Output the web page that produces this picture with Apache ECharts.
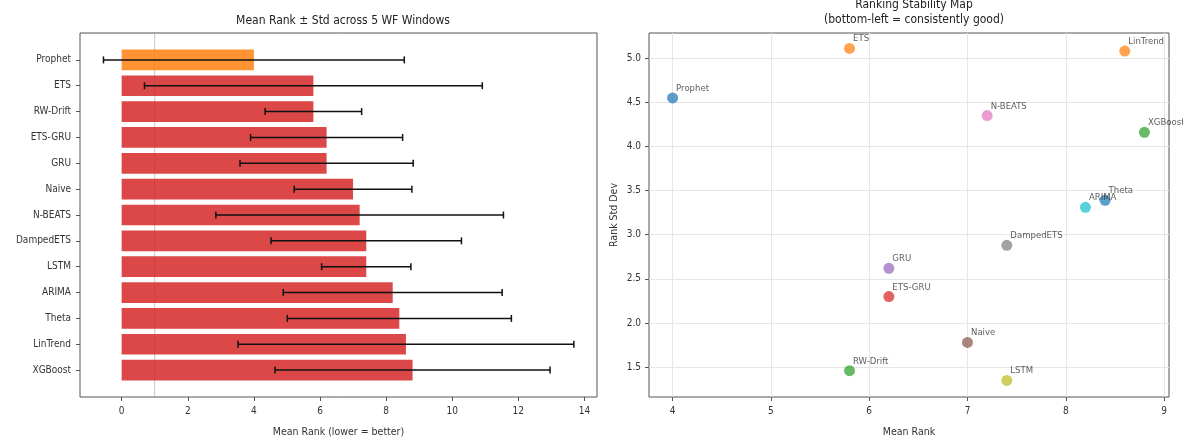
<!DOCTYPE html>
<html>
<head>
<meta charset="utf-8">
<script src="https://cdn.jsdelivr.net/npm/echarts@6/dist/echarts.min.js"></script>
<style>
html,body{margin:0;padding:0;background:#fff;}
#chart{width:1183px;height:438px;}
</style>
</head>
<body>
<div id="chart"></div>
<script>
// ---- data ----
const models = ['Prophet','ETS','RW-Drift','ETS-GRU','GRU','Naive','N-BEATS','DampedETS','LSTM','ARIMA','Theta','LinTrend','XGBoost'];
const meanRank = [4.0, 5.8, 5.8, 6.2, 6.2, 7.0, 7.2, 7.4, 7.4, 8.2, 8.4, 8.6, 8.8];
const stdRank  = [4.55, 5.11, 1.46, 2.30, 2.62, 1.78, 4.35, 2.88, 1.35, 3.31, 3.39, 5.08, 4.16];
const barColors = ['#ff7f0e','#d62728','#d62728','#d62728','#d62728','#d62728','#d62728','#d62728','#d62728','#d62728','#d62728','#d62728','#d62728'];
const pointColors = ['#1f77b4','#ff7f0e','#2ca02c','#d62728','#9467bd','#8c564b','#e377c2','#7f7f7f','#bcbd22','#17becf','#1f77b4','#ff7f0e','#2ca02c'];
const leftXTicks = [0, 2, 4, 6, 8, 10, 12, 14];
const rightXTicks = [4, 5, 6, 7, 8, 9];
const rightYTicks = [1.5, 2.0, 2.5, 3.0, 3.5, 4.0, 4.5, 5.0];
const refLineX = 1;

const FONT = "'DejaVu Sans Condensed', 'Liberation Sans Narrow', 'DejaVu Sans', sans-serif";
const TXT = '#333';
const FRAME = '#555';

const chart = echarts.init(document.getElementById('chart'), null, {renderer: 'canvas'});

const indexData = models.map((m, i) => [meanRank[i], i, stdRank[i]]);

function hexA(hex, a) {
  const r = parseInt(hex.slice(1,3),16), g = parseInt(hex.slice(3,5),16), b = parseInt(hex.slice(5,7),16);
  return `rgba(${r},${g},${b},${a})`;
}

const axisCommon = {
  axisLine: {show: false, onZero: false},
  axisTick: {show: true, inside: false, length: 4, lineStyle: {color: FRAME, width: 1}},
  axisLabel: {color: TXT, fontFamily: FONT, fontSize: 10, margin: 4},
  nameTextStyle: {color: TXT, fontFamily: FONT, fontSize: 10.5}
};

const option = {
  animation: false,
  backgroundColor: '#fff',
  title: [
    {text: 'Mean Rank \u00b1 Std across 5 WF Windows', left: 338, top: 8, textAlign: 'center',
     textStyle: {fontFamily: FONT, fontSize: 12, fontWeight: 'normal', color: '#222', lineHeight: 15}},
    {text: 'Ranking Stability Map\n(bottom-left = consistently good)', left: 909, top: -8, textAlign: 'center',
     textStyle: {fontFamily: FONT, fontSize: 12, fontWeight: 'normal', color: '#222', lineHeight: 15}}
  ],
  grid: [
    {left: 80, right: 586, top: 33, bottom: 41, outerBoundsMode: 'none', containLabel: false,
     show: true, borderColor: FRAME, borderWidth: 1, backgroundColor: 'transparent'},
    {left: 649, right: 14, top: 33, bottom: 41, outerBoundsMode: 'none', containLabel: false,
     show: true, borderColor: FRAME, borderWidth: 1, backgroundColor: 'transparent'}
  ],
  xAxis: [
    Object.assign({}, axisCommon, {
      type: 'value', gridIndex: 0, min: -1.26, max: 14.38,
      name: 'Mean Rank (lower = better)', nameLocation: 'middle', nameGap: 30,
      axisTick: Object.assign({}, axisCommon.axisTick, {customValues: leftXTicks}),
      axisLabel: Object.assign({}, axisCommon.axisLabel, {customValues: leftXTicks, margin: 9}),
      splitLine: {show: false}
    }),
    Object.assign({}, axisCommon, {
      type: 'value', gridIndex: 1, min: 3.76, max: 9.05,
      name: 'Mean Rank', nameLocation: 'middle', nameGap: 30,
      axisTick: Object.assign({}, axisCommon.axisTick, {customValues: rightXTicks}),
      axisLabel: Object.assign({}, axisCommon.axisLabel, {customValues: rightXTicks, margin: 9}),
      splitLine: {show: true, lineStyle: {color: '#e6e6e6', width: 1}}
    })
  ],
  yAxis: [
    Object.assign({}, axisCommon, {
      type: 'value', gridIndex: 0, min: -1.04, max: 13.04, inverse: true,
      axisTick: Object.assign({}, axisCommon.axisTick, {customValues: models.map((m, i) => i)}),
      axisLabel: Object.assign({}, axisCommon.axisLabel, {
        customValues: models.map((m, i) => i), margin: 9,
        formatter: v => models[Math.round(v)] || ''
      }),
      splitLine: {show: false}
    }),
    Object.assign({}, axisCommon, {
      type: 'value', gridIndex: 1, min: 1.162, max: 5.285,
      name: 'Rank Std Dev', nameLocation: 'middle', nameGap: 29, nameRotate: 90,
      axisTick: Object.assign({}, axisCommon.axisTick, {customValues: rightYTicks}),
      axisLabel: Object.assign({}, axisCommon.axisLabel, {customValues: rightYTicks, margin: 8, formatter: v => v.toFixed(1)}),
      splitLine: {show: true, lineStyle: {color: '#e6e6e6', width: 1}}
    })
  ],
  series: [
    {
      type: 'custom', name: 'refline', xAxisIndex: 0, yAxisIndex: 0, z: 1,
      data: [[refLineX, -1.04], [refLineX, 13.04]],
      encode: {x: 0, y: 1},
      renderItem: function (params, api) {
        if (params.dataIndex !== 0) return null;
        const a = api.coord([refLineX, -1.04]);
        const b = api.coord([refLineX, 13.04]);
        return {type: 'line', shape: {x1: a[0], y1: a[1], x2: b[0], y2: b[1]},
                style: {stroke: 'rgba(128,128,128,0.45)', lineWidth: 1}};
      }
    },
    {
      type: 'custom', name: 'bars', xAxisIndex: 0, yAxisIndex: 0, z: 2,
      data: indexData, encode: {x: 0, y: 1},
      renderItem: function (params, api) {
        const i = api.value(1);
        const p0 = api.coord([0, i]);
        const p1 = api.coord([api.value(0), i]);
        const h = api.size([0, 0.8])[1];
        return {type: 'rect', shape: {x: p0[0], y: p0[1] - h / 2, width: p1[0] - p0[0], height: h},
                style: {fill: hexA(barColors[i], 0.85)}};
      }
    },
    {
      type: 'custom', name: 'errbars', xAxisIndex: 0, yAxisIndex: 0, z: 3,
      data: indexData, encode: {x: 0, y: 1},
      renderItem: function (params, api) {
        const i = api.value(1), m = api.value(0), s = api.value(2);
        const a = api.coord([m - s, i]);
        const b = api.coord([m + s, i]);
        const cap = 3.5;
        const st = {stroke: '#111', lineWidth: 1.5};
        return {type: 'group', children: [
          {type: 'line', shape: {x1: a[0], y1: a[1], x2: b[0], y2: b[1]}, style: st},
          {type: 'line', shape: {x1: a[0], y1: a[1] - cap, x2: a[0], y2: a[1] + cap}, style: st},
          {type: 'line', shape: {x1: b[0], y1: b[1] - cap, x2: b[0], y2: b[1] + cap}, style: st}
        ]};
      }
    },
    {
      type: 'scatter', name: 'stability', xAxisIndex: 1, yAxisIndex: 1, z: 3,
      symbolSize: 11,
      data: models.map((m, i) => ({name: m, value: [meanRank[i], stdRank[i]],
        itemStyle: {color: hexA(pointColors[i], 0.9)}})),
      label: {show: true, formatter: p => p.name, position: [9, 1], align: 'left', verticalAlign: 'bottom',
        fontFamily: FONT, fontSize: 9.5, color: '#333'}
    }
  ]
};

chart.setOption(option);
</script>
</body>
</html>
